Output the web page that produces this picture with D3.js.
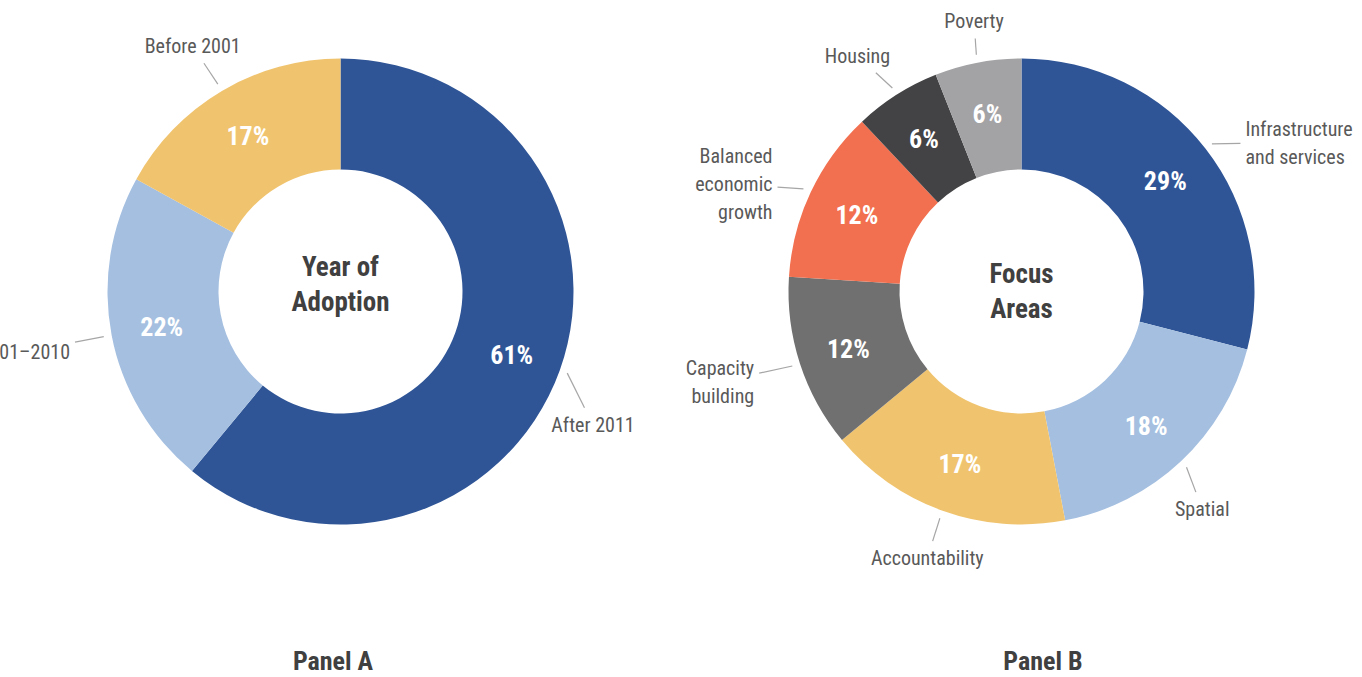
<!DOCTYPE html>
<html>
<head>
<meta charset="utf-8">
<script src="https://cdn.jsdelivr.net/npm/d3@7"></script>
<style>
  html, body { margin: 0; padding: 0; background: #fff; }
  svg text { font-family: "Roboto Condensed", "Liberation Sans Narrow", "DejaVu Sans Condensed", Roboto, sans-serif; font-stretch: condensed; }
</style>
</head>
<body>
<div id="chart"></div>
<script>
// ---------------- data ----------------
const adoptionCats = ['After 2011', '2001\u20132010', 'Before 2001'];
const adoptionValues = [61, 22, 17];
const adoptionColors = ['#2f5597', '#a4bfe0', '#f0c46f'];

const focusCats = ['Infrastructure and services', 'Spatial', 'Accountability', 'Capacity building',
    'Balanced economic growth', 'Housing', 'Poverty'];
const focusValues = [29, 18, 17, 12, 12, 6, 6];
const focusColors = ['#2f5597', '#a4bfe0', '#f0c46f', '#707070', '#f2704f', '#434345', '#a3a3a6'];

// how long labels wrap
const wrapLines = {
    'Infrastructure and services': ['Infrastructure', 'and services'],
    'Capacity building': ['Capacity', 'building'],
    'Balanced economic growth': ['Balanced', 'economic', 'growth']
};
// manual label nudges (px), like hand-placed labels in the source
const labelNudge = {
    'After 2011': [-37, 39],
    'Before 2001': [12, -6],
    '2001\u20132010': [-10, 8],
    'Infrastructure and services': [25, 30],
    'Spatial': [-20, 15],
    'Accountability': [15, 5],
    'Capacity building': [-16, 0],
    'Balanced economic growth': [-12, 23],
    'Housing': [-4, -1],
    'Poverty': [8, 3]
};

// ---------------- layout ----------------
const width = 1362;
const height = 677;
const outerR = 233;
const innerR = 122;
const pctR = 182;
const leaderR0 = 241;
const labelR = 266;
const labelGap = 5;
const labelLineH = 28;

const svg = d3.select('#chart').append('svg')
    .attr('width', width)
    .attr('height', height);

function donut(cfg) {
    const g = svg.append('g')
        .attr('transform', `translate(${cfg.cx},${cfg.cy})`);

    const pie = d3.pie().sort(null).value((d) => d.value);
    const data = cfg.cats.map((c, i) => ({ name: c, value: cfg.values[i], color: cfg.colors[i] }));
    const arcs = pie(data);

    const arc = d3.arc().innerRadius(innerR).outerRadius(outerR);
    const pctArc = d3.arc().innerRadius(pctR).outerRadius(pctR);

    // slices
    g.selectAll('path.slice')
        .data(arcs)
        .enter()
        .append('path')
        .attr('class', 'slice')
        .attr('d', arc)
        .attr('fill', (d) => d.data.color);

    // percentages
    g.selectAll('text.pct')
        .data(arcs)
        .enter()
        .append('text')
        .attr('class', 'pct')
        .attr('transform', (d) => `translate(${pctArc.centroid(d)})`)
        .attr('text-anchor', 'middle')
        .attr('dy', '0.4em')
        .attr('fill', '#fff')
        .attr('font-size', 26)
        .attr('font-weight', 700)
        .text((d) => `${d.data.value}%`);

    // category labels + leader lines
    arcs.forEach((d) => {
        const a = (d.startAngle + d.endAngle) / 2;
        const sx = Math.sin(a);
        const sy = -Math.cos(a);
        const lines = wrapLines[d.data.name] || [d.data.name];
        const anchor = sx > 0.2 ? 'start' : (sx < -0.2 ? 'end' : 'middle');

        const lg = g.append('g').attr('class', 'cat-label');
        const t = lg.append('text')
            .attr('text-anchor', anchor)
            .attr('font-size', 20)
            .attr('fill', '#595959');
        lines.forEach((ln, i) => {
            t.append('tspan')
                .attr('x', 0)
                .attr('dy', i ? labelLineH : 0)
                .text(ln);
        });
        const bb = lg.node().getBBox();
        const nudge = labelNudge[d.data.name] || [0, 0];
        const lx = labelR * sx + sx * bb.width / 2 + nudge[0];
        const ly = labelR * sy + sy * bb.height / 2 + nudge[1];
        lg.attr('transform', `translate(${lx - (bb.x + bb.width / 2)},${ly - (bb.y + bb.height / 2)})`);

        // leader from the ring to the edge of the label box
        const x0 = leaderR0 * sx;
        const y0 = leaderR0 * sy;
        const dx = lx - x0;
        const dy = ly - y0;
        const hw = bb.width / 2 + labelGap;
        const hh = bb.height / 2 + labelGap;
        const tc = Math.min(hw / Math.max(Math.abs(dx), 1e-6), hh / Math.max(Math.abs(dy), 1e-6));
        g.append('line')
            .attr('x1', x0)
            .attr('y1', y0)
            .attr('x2', lx - tc * dx)
            .attr('y2', ly - tc * dy)
            .attr('stroke', '#a6a6a6')
            .attr('stroke-width', 1.2);
    });

    // centre title
    const ct = g.append('text')
        .attr('text-anchor', 'middle')
        .attr('font-size', 27)
        .attr('font-weight', 700)
        .attr('fill', '#404040');
    cfg.title.forEach((ln, i) => {
        ct.append('tspan')
            .attr('x', 0)
            .attr('y', cfg.titleY + i * 35)
            .text(ln);
    });

    // panel caption
    svg.append('text')
        .attr('x', cfg.captionX)
        .attr('y', 670)
        .attr('text-anchor', 'middle')
        .attr('font-size', 26)
        .attr('font-weight', 700)
        .attr('fill', '#404040')
        .text(cfg.caption);
}

donut({
    cx: 340.5, cy: 291.5,
    cats: adoptionCats, values: adoptionValues, colors: adoptionColors,
    title: ['Year of', 'Adoption'], titleY: -16,
    caption: 'Panel A', captionX: 333
});
donut({
    cx: 1021.5, cy: 291.5,
    cats: focusCats, values: focusValues, colors: focusColors,
    title: ['Focus', 'Areas'], titleY: -9,
    caption: 'Panel B', captionX: 1043
});
</script>
</body>
</html>
